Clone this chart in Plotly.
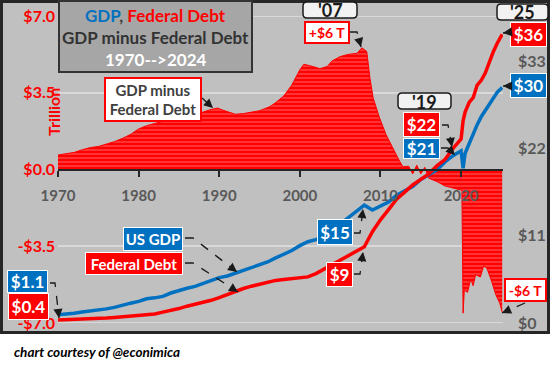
import plotly.graph_objects as go

# ---------------- data (trillions of US$) ----------------
years = [1970, 1971, 1972, 1973, 1974, 1975, 1976, 1977, 1978, 1979,
         1980, 1981, 1982, 1983, 1984, 1985, 1986, 1987, 1988, 1989,
         1990, 1991, 1992, 1993, 1994, 1995, 1996, 1997, 1998, 1999,
         2000, 2001, 2002, 2003, 2004, 2005, 2006, 2007, 2008, 2009,
         2010, 2011, 2012, 2013, 2014, 2015, 2016, 2017, 2018, 2019,
         2020, 2020.25, 2020.5, 2021, 2021.5, 2022, 2022.5, 2023, 2023.5,
         2024, 2024.5, 2025.1]
gdp = [1.05, 1.12, 1.23, 1.38, 1.50, 1.60, 1.78, 1.97, 2.18, 2.50,
       2.73, 3.05, 3.17, 3.36, 3.78, 4.12, 4.38, 4.61, 4.97, 5.37,
       5.72, 5.93, 6.26, 6.60, 6.96, 7.33, 7.69, 8.20, 8.65, 9.13,
       9.75, 10.25, 10.50, 10.95, 11.67, 12.44, 13.29, 14.00, 14.85, 14.25,
       14.72, 15.25, 16.10, 16.60, 17.20, 18.10, 18.70, 19.30, 20.30, 21.10,
       21.70, 19.50, 21.40, 22.60, 24.00, 25.00, 26.00, 26.80, 27.60,
       28.40, 29.10, 29.70]
debt = [0.37, 0.40, 0.43, 0.46, 0.48, 0.53, 0.62, 0.70, 0.77, 0.83,
        0.90, 0.99, 1.14, 1.37, 1.57, 1.82, 2.12, 2.35, 2.60, 2.86,
        3.21, 3.60, 4.00, 4.35, 4.64, 4.92, 5.18, 5.37, 5.48, 5.61,
        5.70, 5.81, 6.23, 6.78, 7.38, 7.93, 8.50, 9.00, 9.60, 11.50,
        13.00, 14.30, 15.60, 16.50, 17.40, 18.10, 18.80, 19.80, 20.60, 22.00,
        23.20, 25.50, 26.60, 27.80, 28.40, 30.00, 30.60, 31.50, 33.00,
        34.20, 35.30, 36.40]

# GDP minus Federal Debt, read from the red columns (left axis)
gap_years = [1970, 1971, 1972, 1973, 1974, 1975, 1976, 1977, 1978, 1979,
             1980, 1981, 1982, 1983, 1984, 1985, 1986, 1987, 1988, 1989,
             1989.8, 1990.5, 1991.4, 1992, 1993, 1994, 1995, 1996.3, 1997, 1998,
             1999, 2000, 2000.5, 2001.6, 2002.5, 2003.4, 2004, 2005, 2006, 2007.1,
             2007.7, 2008.3, 2008.7, 2009.1, 2009.9, 2010.7, 2011.5, 2012.4, 2012.8, 2013.5,
             2014, 2014.5, 2015, 2015.5, 2016, 2017, 2018, 2019, 2020.1, 2020.25,
             2020.4, 2020.8, 2021.2, 2021.5, 2021.8, 2022.4, 2022.8, 2023.2, 2023.7, 2024.3,
             2024.8, 2025.1]
gap = [0.66, 0.72, 0.78, 0.90, 1.00, 1.05, 1.15, 1.27, 1.42, 1.60,
       1.85, 2.00, 2.10, 2.18, 2.28, 2.38, 2.45, 2.52, 2.62, 2.74,
       2.80, 2.70, 2.57, 2.52, 2.55, 2.60, 2.68, 2.87, 3.05, 3.35,
       3.85, 4.55, 4.80, 4.70, 4.60, 4.70, 4.95, 5.15, 5.25, 5.30,
       5.55, 5.38, 4.16, 3.25, 2.34, 1.58, 0.97, 0.36, 0.12, 0.15,
       -0.20, 0.20, -0.20, 0.10, -0.40, -0.55, -0.75, -0.85, -0.95, -6.55,
       -5.50, -5.60, -5.00, -5.30, -4.80, -4.90, -4.40, -4.50, -5.00, -5.70,
       -6.10, -6.50]

year_ticks = [1970, 1980, 1990, 2000, 2010, 2020]
left_ticks = [-7, -3.5, 0, 3.5, 7]
left_tick_text = ["-$7.0", "-$3.5", "$0.0", "$3.5", "$7.0"]
right_ticks = [0, 11, 22, 33]
right_tick_text = ["$0", "$11", "$22", "$33"]

# ---------------- styling ----------------
BLUE = "#0070c0"
RED = "#ff0000"
GREY_TXT = "#595959"
GRID = "#d9d9d9"
FONT = "Lato"

W, H = 550, 372
L, R, T, B = 58, 503, 16, 323


def px(x):
    return (x - L) / (R - L)


def py(y):
    return (B - y) / (B - T)


fig = go.Figure()

fig.add_trace(go.Scatter(
    x=gap_years, y=gap, mode="lines", fill="tozeroy",
    line=dict(color=RED, width=1), fillcolor=RED,
    fillpattern=dict(shape="-", fgcolor="#ff8080", bgcolor=RED, size=4,
                     solidity=0.2, fillmode="replace"),
    yaxis="y", hoverinfo="skip"))
fig.add_trace(go.Scatter(x=years, y=gdp, mode="lines", yaxis="y2",
                         line=dict(color=BLUE, width=3.5)))
fig.add_trace(go.Scatter(x=years, y=debt, mode="lines", yaxis="y2",
                         line=dict(color=RED, width=3.5)))

shapes = []
annotations = []

# outer grey panel with dark frame
shapes.append(dict(type="rect", xref="paper", yref="paper",
                   x0=px(1.5), x1=px(548.5), y0=py(1.5), y1=py(332.5),
                   fillcolor="#c0c0c0", line=dict(color="#262626", width=3),
                   layer="below"))
# gridlines at the range ends (plotly drops these automatically)
for v in (left_ticks[0], left_ticks[-1]):
    shapes.append(dict(type="line", xref="paper", yref="y", x0=0, x1=1,
                       y0=v, y1=v, line=dict(color=GRID, width=2),
                       layer="below"))
# title box
shapes.append(dict(type="rect", xref="paper", yref="paper",
                   x0=px(59), x1=px(252), y0=py(1), y1=py(72),
                   fillcolor="#a6a6a6", line=dict(color="#333333", width=2),
                   layer="above"))


def rounded(x0, y0, x1, y1, r=4):
    rx = r / (R - L)
    ry = r / (B - T)
    X0, X1 = px(x0), px(x1)
    Y0, Y1 = py(y0), py(y1)  # Y0 top (bigger), Y1 bottom
    p = (f"M {X0+rx},{Y0} L {X1-rx},{Y0} Q {X1},{Y0} {X1},{Y0-ry} "
         f"L {X1},{Y1+ry} Q {X1},{Y1} {X1-rx},{Y1} L {X0+rx},{Y1} "
         f"Q {X0},{Y1} {X0},{Y1+ry} L {X0},{Y0-ry} Q {X0},{Y0} {X0+rx},{Y0} Z")
    return dict(type="path", xref="paper", yref="paper", path=p,
                fillcolor="#f2f2f2", line=dict(color="#1a1a1a", width=1.5),
                layer="above")


for (x0, y0, x1, y1) in [(303, 2, 357, 18), (398, 93, 451, 109), (497, 4, 548, 20)]:
    shapes.append(rounded(x0, y0, x1, y1))


def label(cx, cy, w, h, text, fg, bg, border, bw=1, size=16):
    pad = 0
    annotations.append(dict(
        x=px(cx), y=py(cy), xref="paper", yref="paper", showarrow=False,
        text=text, font=dict(family=FONT, size=size, color=fg, weight="bold"),
        bgcolor=bg, bordercolor=border, borderwidth=bw, borderpad=pad,
        width=max(w - 2 * (bw + pad), 1), height=max(h - 2 * (bw + pad), 1),
        xanchor="center", yanchor="middle", align="center", valign="middle"))


def plain(cx, cy, text, color, size, anchor="center", angle=0):
    annotations.append(dict(
        x=px(cx), y=py(cy), xref="paper", yref="paper", showarrow=False,
        text=text, textangle=angle,
        font=dict(family=FONT, size=size, color=color, weight="bold"),
        xanchor=anchor, yanchor="middle"))


# title text
plain(155.5, 15, f"<span style='color:{BLUE}'>GDP</span>, "
      f"<span style='color:{RED}'>Federal Debt</span>", "#404040", 17)
plain(155.5, 37, "GDP minus Federal Debt", "#333333", 17)
plain(155.5, 60, "1970-->2024", "#ffffff", 17)

# 'Trillion' axis title
plain(53.5, 112.5, "Trillion", RED, 16, angle=-90)

# year boxes
plain(330, 10.5, "'07", "#1a1a1a", 18)
plain(424.5, 101.5, "'19", "#1a1a1a", 18)
plain(522.5, 12.5, "'25", "#1a1a1a", 18)

# callouts
label(153, 99.5, 98, 45, "GDP minus<br>Federal Debt", "#404040", "#ffffff", RED, bw=2, size=15)
label(327, 32.5, 46, 23, "+$6 T", RED, "#ffffff", RED, bw=2, size=14)
label(421.5, 124.5, 37, 25, "$22", "#ffffff", RED, "#ffffff", size=17)
label(421.5, 148.5, 37, 21, "$21", "#ffffff", BLUE, "#ffffff", size=17)
label(528.5, 34.5, 37, 25, "$36", "#ffffff", RED, "#ffffff", size=17)
label(528.5, 85.5, 37, 25, "$30", "#ffffff", BLUE, "#ffffff", size=17)
label(335, 232, 36, 26, "$15", "#ffffff", BLUE, "#ffffff", size=17)
label(339.5, 274.5, 27, 25, "$9", "#ffffff", RED, "#ffffff", size=17)
label(525.5, 290, 43, 24, "-$6 T", RED, "#ffffff", RED, bw=2, size=14)
label(153, 239, 60, 24, "US GDP", "#ffffff", BLUE, "#ffffff", size=15)
label(134, 263.5, 98, 23, "Federal Debt", "#ffffff", RED, "#ffffff", size=15)
label(27.5, 281.5, 41, 23, "$1.1", "#ffffff", BLUE, "#ffffff", size=17)
label(28.5, 306.5, 41, 27, "$0.4", "#ffffff", RED, "#ffffff", size=17)

# dashed connectors with arrow heads
connectors = [
    [(202, 98), (213, 108)],
    [(350, 32), (357, 32), (361, 47)],
    [(442, 125), (448, 125), (452, 147)],
    [(441, 148), (448, 148), (455, 155)],
    [(511, 32), (503, 33)],
    [(511, 86), (503, 86)],
    [(354, 233), (360, 233), (363, 209)],
    [(354, 274), (360, 274), (363, 252)],
    [(525, 303), (502, 313)],
    [(185, 238), (193, 238), (237, 272)],
    [(185, 263), (193, 263), (238, 292)],
    [(50, 283), (55, 283), (59, 318)],
]
for pts in connectors:
    path = "M " + " L ".join(f"{px(x)},{py(y)}" for x, y in pts)
    shapes.append(dict(type="path", xref="paper", yref="paper", path=path,
                       line=dict(color="#1a1a1a", width=1.3, dash="dash"),
                       layer="above"))
    (x1, y1), (x2, y2) = pts[-2], pts[-1]
    d = ((x1 - x2) ** 2 + (y1 - y2) ** 2) ** 0.5
    annotations.append(dict(
        x=px(x2), y=py(y2), xref="paper", yref="paper", text="",
        showarrow=True, arrowhead=2, arrowsize=1.4, arrowwidth=1.3,
        arrowcolor="#1a1a1a", standoff=0,
        ax=(x1 - x2) / d * 8, ay=(y1 - y2) / d * 8))

# credit
annotations.append(dict(
    x=px(12), y=py(352), xref="paper", yref="paper", showarrow=False,
    text="<b><i>chart courtesy of @econimica</i></b>",
    font=dict(family=FONT, size=13.5, color="#000000"),
    xanchor="left", yanchor="middle"))

fig.update_layout(
    width=W, height=H,
    margin=dict(l=L, r=W - R, t=T, b=H - B, pad=0, autoexpand=False),
    paper_bgcolor="#ffffff", plot_bgcolor="rgba(0,0,0,0)",
    showlegend=False, hovermode=False,
    xaxis=dict(range=[1970, 2025.2], tickvals=year_ticks, automargin=False,
               showgrid=False, zeroline=False,
               showline=True, linecolor="#262626", linewidth=2,
               ticks="outside", ticklen=6, tickwidth=1.5, tickcolor="#262626",
               anchor="free", position=0.5, ticklabelstandoff=6,
               tickfont=dict(family=FONT, size=15, color=GREY_TXT, weight="bold")),
    yaxis=dict(range=[-7, 7], tickvals=left_ticks, ticktext=left_tick_text,
               automargin=False,
               showgrid=True, gridcolor=GRID, gridwidth=2,
               zeroline=False, showline=False, ticks="",
               ticklabelstandoff=2,
               tickfont=dict(family=FONT, size=16, color=RED, weight="bold")),
    yaxis2=dict(range=[0, 38.7], tickvals=right_ticks, ticktext=right_tick_text,
                automargin=False,
                overlaying="y", side="right", showgrid=False, zeroline=False,
                showline=False, ticks="", ticklabelstandoff=14,
                tickfont=dict(family=FONT, size=16, color=GREY_TXT, weight="bold")),
    shapes=shapes, annotations=annotations,
)

fig.write_html("out.html", config={"displayModeBar": False},
               post_script="document.body.style.margin='0';"
                           "document.body.style.overflow='hidden';")
